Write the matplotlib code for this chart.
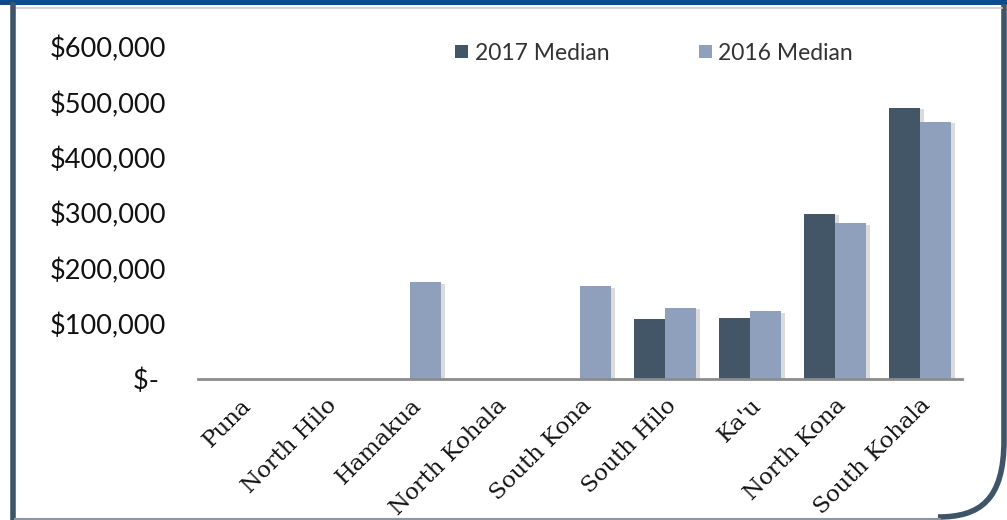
import numpy as np
import matplotlib.pyplot as plt
import matplotlib.patheffects as pe
from matplotlib.path import Path
from matplotlib.patches import PathPatch, Rectangle

areas = ["Puna", "North Hilo", "Hamakua", "North Kohala", "South Kona",
         "South Hilo", "Ka'u", "North Kona", "South Kohala"]
median_2017 = [0, 0, 0, 0, 0, 107500, 111000, 299000, 490000]
median_2016 = [0, 0, 175000, 0, 167500, 128500, 122000, 281000, 465000]
ytick_vals = [0, 100000, 200000, 300000, 400000, 500000, 600000]
ytick_text = ["$- ", "$100,000", "$200,000", "$300,000", "$400,000", "$500,000", "$600,000"]

c2017 = "#435667"
c2016 = "#8FA0BC"

fig = plt.figure(figsize=(10.07, 5.20), dpi=100)

# frame decoration drawn in pixel space
bg = fig.add_axes([0, 0, 1, 1], zorder=-1)
bg.set_xlim(0, 1007)
bg.set_ylim(520, 0)
bg.axis("off")
bg.add_patch(Rectangle((0, 0), 1007, 4.5, color="#0D4A8E", lw=0))
bg.plot([15, 1002], [8, 8], color="#C9CED4", lw=1.2)
bg.plot([12.5, 12.5], [5, 520], color="#3E5569", lw=4)
bg.plot([15, 940], [518.5, 518.5], color="#8E979F", lw=1.5)
verts = [(1004, 4), (1004, 440), (1004, 500), (980, 517), (938, 517)]
codes = [Path.MOVETO, Path.LINETO, Path.CURVE4, Path.CURVE4, Path.CURVE4]
bg.add_patch(PathPatch(Path(verts, codes), fill=False, ec="#3E5569", lw=4))

ax = fig.add_axes([0.1966, 0.2712, 0.7587, 0.6385])
ax.set_facecolor("none")

x = np.arange(len(areas))
w = 0.365
b1 = ax.bar(x - w / 2, median_2017, w, color=c2017, label="2017 Median")
b2 = ax.bar(x + w / 2, median_2016, w, color=c2016, label="2016 Median")
shadow = [pe.SimplePatchShadow(offset=(3, -1), shadow_rgbFace="#888888", alpha=0.3), pe.Normal()]
for b in list(b1) + list(b2):
    b.set_path_effects(shadow)

ax.set_xlim(-0.5, len(areas) - 0.5)
ax.set_ylim(0, 600000)
for s in ["top", "right", "left"]:
    ax.spines[s].set_visible(False)
ax.spines["bottom"].set_color("#8C8C8C")
ax.spines["bottom"].set_linewidth(2)

ax.set_yticks(ytick_vals)
ax.set_yticklabels(ytick_text, fontfamily="Lato", fontsize=19.5, color="#111111")
ax.tick_params(axis="y", length=0, pad=23)
ax.set_xticks(x)
ax.set_xticklabels(areas, rotation=45, ha="right", va="top", rotation_mode="anchor",
                   fontfamily="DejaVu Serif", fontsize=16.5, color="#111111")
ax.tick_params(axis="x", length=0, pad=11)

leg = ax.legend(loc="upper left", bbox_to_anchor=(0.31, 1.075), ncol=2, frameon=False,
                prop={"family": "Lato", "size": 16.5},
                handlelength=0.55, handleheight=0.55, handletextpad=0.3, columnspacing=3.9)
for h in leg.legend_handles:
    h.set_path_effects([])
for t in leg.get_texts():
    t.set_color("#333333")

fig.savefig("out.png", dpi=100)
